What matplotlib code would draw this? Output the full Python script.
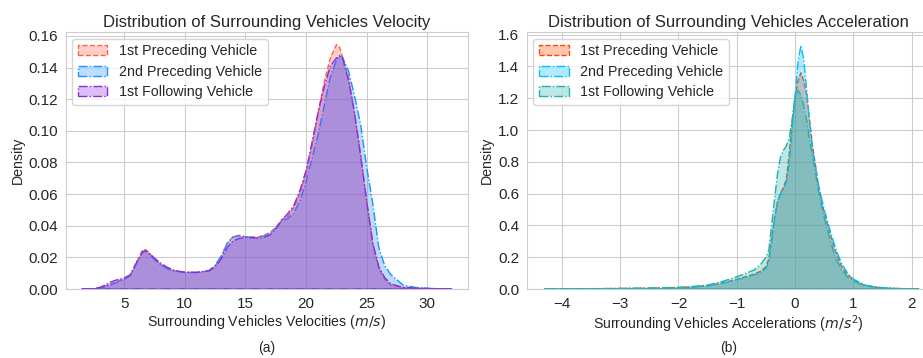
import matplotlib
matplotlib.use("Agg")
from matplotlib import pyplot as plt
from matplotlib.colors import to_rgba
import seaborn as sns

# velocity densities (m/s)
vel_grid = [1.5, 2.5, 3.0, 3.5, 4.0, 4.5, 5.0, 5.5, 6.0, 6.5, 6.75, 7.0, 7.5, 8.0, 8.5,
            9.0, 9.5, 10.0, 11.0, 12.0, 12.5, 13.0, 13.5, 14.0, 14.5, 15.0, 16.0, 16.5,
            17.0, 17.5, 18.0, 18.5, 19.0, 19.5, 20.0, 20.5, 21.0, 21.5, 22.0, 22.5, 22.75,
            23.0, 23.5, 24.0, 24.5, 25.0, 25.5, 26.0, 26.5, 27.0, 28.0, 29.0, 30.0, 31.0, 32.0]
vel_prec1 = [0, 0.0002, 0.0008, 0.002, 0.0035, 0.005, 0.0065, 0.0088, 0.0165, 0.0245, 0.025,
             0.0235, 0.019, 0.0155, 0.013, 0.0115, 0.011, 0.0106, 0.0105, 0.0115, 0.0145,
             0.0205, 0.029, 0.0333, 0.034, 0.033, 0.0328, 0.034, 0.0355, 0.039, 0.044, 0.046,
             0.0515, 0.061, 0.073, 0.091, 0.112, 0.131, 0.146, 0.1545, 0.153, 0.147, 0.134,
             0.111, 0.085, 0.056, 0.029, 0.013, 0.006, 0.0025, 0.0008, 0.0004, 0.0002, 0.0001, 0]
vel_prec2 = [0, 0.0001, 0.0005, 0.0015, 0.003, 0.0045, 0.006, 0.0085, 0.016, 0.023, 0.024,
             0.0225, 0.0185, 0.0155, 0.013, 0.0118, 0.011, 0.0105, 0.0105, 0.0117, 0.015,
             0.021, 0.029, 0.033, 0.0335, 0.033, 0.0325, 0.0335, 0.035, 0.0385, 0.043, 0.0446,
             0.048, 0.056, 0.068, 0.083, 0.098, 0.116, 0.134, 0.1445, 0.1474, 0.1465, 0.138,
             0.122, 0.104, 0.077, 0.054, 0.026, 0.0145, 0.009, 0.0025, 0.001, 0.0004, 0.0001, 0]
vel_foll1 = [0, 0.0003, 0.001, 0.0028, 0.0048, 0.006, 0.007, 0.009, 0.0165, 0.0235, 0.0242,
             0.023, 0.0195, 0.0165, 0.014, 0.0122, 0.0112, 0.0106, 0.0105, 0.0115, 0.014,
             0.019, 0.0263, 0.0305, 0.032, 0.0326, 0.0322, 0.0326, 0.034, 0.038, 0.0435, 0.0478,
             0.053, 0.0625, 0.075, 0.093, 0.112, 0.128, 0.141, 0.146, 0.1474, 0.146, 0.132,
             0.111, 0.084, 0.055, 0.029, 0.014, 0.007, 0.0032, 0.001, 0.0006, 0.0004, 0.0002, 0]

# acceleration densities (m/s^2)
acc_grid = [-4.3, -4.0, -3.5, -3.0, -2.5, -2.0, -1.75, -1.5, -1.25, -1.0, -0.85, -0.7, -0.6,
            -0.5, -0.45, -0.4, -0.35, -0.3, -0.25, -0.2, -0.15, -0.1, -0.05, 0.0, 0.05, 0.1,
            0.15, 0.2, 0.25, 0.3, 0.35, 0.4, 0.5, 0.6, 0.7, 0.8, 0.9, 1.0, 1.2, 1.4, 1.6, 1.8,
            2.0, 2.12]
acc_prec1 = [0, 0.0008, 0.0015, 0.003, 0.005, 0.009, 0.014, 0.021, 0.038, 0.061, 0.077, 0.094,
             0.11, 0.14, 0.19, 0.33, 0.45, 0.55, 0.6, 0.64, 0.69, 0.85, 1.05, 1.2, 1.31, 1.36,
             1.31, 1.22, 1.06, 0.9, 0.78, 0.65, 0.48, 0.35, 0.23, 0.14, 0.09, 0.057, 0.021,
             0.01, 0.005, 0.002, 0.001, 0]
acc_prec2 = [0, 0.0006, 0.0012, 0.0025, 0.0045, 0.008, 0.012, 0.019, 0.035, 0.058, 0.072, 0.09,
             0.103, 0.13, 0.17, 0.3, 0.45, 0.55, 0.6, 0.63, 0.67, 0.79, 1.0, 1.21, 1.43, 1.533,
             1.44, 1.25, 1.04, 0.88, 0.77, 0.66, 0.5, 0.37, 0.25, 0.16, 0.1, 0.062, 0.025,
             0.012, 0.006, 0.003, 0.0015, 0]
acc_foll1 = [0, 0.001, 0.002, 0.004, 0.006, 0.01, 0.016, 0.025, 0.047, 0.077, 0.098, 0.12,
             0.15, 0.2, 0.245, 0.41, 0.57, 0.73, 0.83, 0.873, 0.9, 0.95, 1.07, 1.21, 1.25, 1.22,
             1.15, 1.06, 0.936, 0.84, 0.73, 0.62, 0.45, 0.31, 0.19, 0.12, 0.075, 0.05, 0.022,
             0.01, 0.005, 0.002, 0.001, 0]

labels = ["1st Preceding Vehicle", "2nd Preceding Vehicle", "1st Following Vehicle"]
styles = ["--", "-.", "-."]

sns.set_style("whitegrid")
plt.rcParams['font.family'] = ['Liberation Sans', 'DejaVu Sans']


def kde_panel(ax, x, series, colors, title, xlabel):
    for y, c, ls, lab in zip(series, colors, styles, labels):
        ax.fill_between(x, y, 0, facecolor=to_rgba(c, 0.3), edgecolor=c,
                        linestyle=ls, linewidth=1.0, label=lab)
    ax.set_title(title, fontsize=12, pad=4)
    ax.set_xlabel(xlabel, fontsize=10.2, labelpad=2)
    ax.set_ylabel("Density", fontsize=10.2, labelpad=3)
    ax.tick_params(labelsize=11, pad=2)
    ax.legend(loc="upper left", fontsize=10.3, borderaxespad=0.45,
              handlelength=2.05, labelspacing=0.45)


fig = plt.figure(figsize=(9.23, 3.58), dpi=100)
ax1 = fig.add_axes([0.0715, 0.1927, 0.4355, 0.717])
ax2 = fig.add_axes([0.571, 0.1927, 0.4355, 0.717])

kde_panel(ax1, vel_grid, [vel_prec1, vel_prec2, vel_foll1],
          ["tomato", "dodgerblue", "blueviolet"],
          "Distribution of Surrounding Vehicles Velocity",
          "Surrounding Vehicles Velocities ($m/s$)")
ax1.set_xlim(0.2, 33.35)
ax1.set_ylim(0, 0.1623)
ax1.set_xticks([5, 10, 15, 20, 25, 30])
ax1.set_yticks([0, 0.02, 0.04, 0.06, 0.08, 0.10, 0.12, 0.14, 0.16])
ax1.set_yticklabels(["%.2f" % t for t in ax1.get_yticks()])

kde_panel(ax2, acc_grid, [acc_prec1, acc_prec2, acc_foll1],
          ["orangered", "deepskyblue", "lightseagreen"],
          "Distribution of Surrounding Vehicles Acceleration",
          "Surrounding Vehicles Accelerations ($m/s^2$)")
ax2.set_xlim(-4.597, 2.297)
ax2.set_ylim(0, 1.615)
ax2.set_xticks([-4, -3, -2, -1, 0, 1, 2])
ax2.set_yticks([0, 0.2, 0.4, 0.6, 0.8, 1.0, 1.2, 1.4, 1.6])

fig.text(0.2893, 0.027, "(a)", ha="center", va="center", fontsize=10)
fig.text(0.789, 0.027, "(b)", ha="center", va="center", fontsize=10)

fig.savefig("out.png", dpi=100)
